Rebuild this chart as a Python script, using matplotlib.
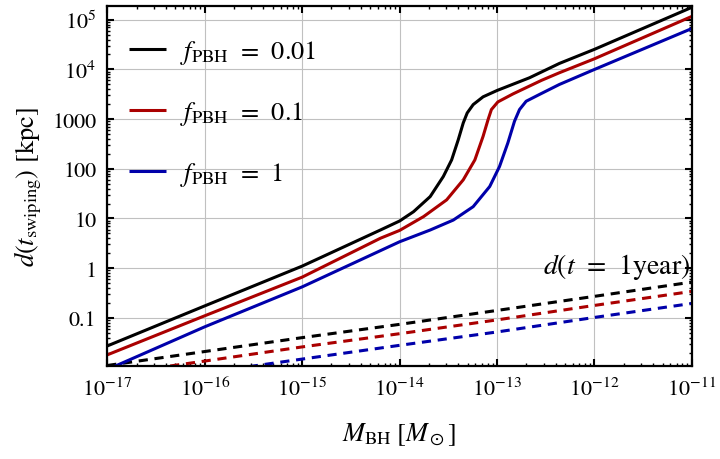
import numpy as np
import matplotlib
matplotlib.use("Agg")
import matplotlib.pyplot as plt
from matplotlib.ticker import LogLocator, FixedLocator, FixedFormatter, NullFormatter

plt.rcParams["font.family"] = "STIXGeneral"
plt.rcParams["mathtext.fontset"] = "stix"

# solid curves: d(t_swiping) in kpc vs M_BH in solar masses
mass_001 = [1e-17, 1e-16, 1e-15, 6.35e-15, 1e-14, 1.39e-14, 2.06e-14, 2.81e-14, 3.42e-14,
            4.0e-14, 4.5e-14, 4.94e-14, 5.69e-14, 7.19e-14, 1e-13, 2.15e-13, 4.36e-13, 1e-12, 1e-11]
dist_001 = [0.0272, 0.174, 1.1, 5.86, 8.9, 13.7, 27.6, 70, 151,
            385, 838, 1330, 1960, 2810, 3770, 6790, 1.32e4, 2.54e4, 1.78e5]

mass_01 = [1e-17, 1e-16, 1e-15, 6.35e-15, 1e-14, 1.76e-14, 3.04e-14, 4.5e-14, 5.92e-14,
           7.19e-14, 8.09e-14, 8.75e-14, 1.02e-13, 1.46e-13, 2.86e-13, 4.36e-13, 1e-12, 1e-11]
dist_01 = [0.0180, 0.110, 0.66, 4.0, 5.75, 10.9, 23.7, 60, 151,
           450, 977, 1556, 2220, 3220, 6030, 8570, 1.64e4, 1.17e5]

mass_1 = [1e-17, 1e-16, 1e-15, 1e-14, 2.06e-14, 3.56e-14, 5.69e-14, 8.41e-14, 1.06e-13,
          1.29e-13, 1.51e-13, 1.70e-13, 1.99e-13, 2.72e-13, 4.36e-13, 1e-12, 1e-11]
dist_1 = [0.0091, 0.066, 0.42, 3.4, 5.86, 9.3, 17.3, 44, 111,
          330, 904, 1556, 2290, 3130, 4980, 1.0e4, 6.67e4]

# dashed curves: d(t = 1 year)
mass_year = [1e-17, 1e-16, 1e-15, 1e-14, 1e-13, 1e-12, 1e-11]
year_001 = [0.011, 0.021, 0.040, 0.074, 0.141, 0.271, 0.525]
year_01 = [0.0071, 0.0135, 0.026, 0.048, 0.091, 0.178, 0.341]
year_1 = [0.0041, 0.0078, 0.0148, 0.028, 0.052, 0.102, 0.195]

labels = [r"$f_{\rm PBH}\;\,=\;\,0.01$", r"$f_{\rm PBH}\;\,=\;\,0.1$", r"$f_{\rm PBH}\;\,=\;\,1$"]
colors = ["black", "#aa0000", "#0000aa"]

ytick_vals = [0.1, 1, 10, 100, 1000, 1e4, 1e5]
ytick_text = ["0.1", "1", "10", "100", "1000", r"$10^4$", r"$10^5$"]
xtick_vals = [1e-17, 1e-16, 1e-15, 1e-14, 1e-13, 1e-12, 1e-11]
xtick_text = [r"$10^{%d}$" % p for p in range(-17, -10)]

fig = plt.figure(figsize=(7.2, 4.6), dpi=100)
ax = fig.add_axes([0.149, 0.202, 0.812, 0.783])

solid = [(mass_001, dist_001), (mass_01, dist_01), (mass_1, dist_1)]
dashed = [year_001, year_01, year_1]
for (m, d), yr, c, lab in zip(solid, dashed, colors, labels):
    ax.plot(m, d, color=c, lw=2.2, label=lab, solid_capstyle="butt")
    ax.plot(mass_year, yr, color=c, lw=2.2, linestyle=(0, (3.0, 2.2)))

ax.set_xscale("log")
ax.set_yscale("log")
ax.set_xlim(1e-17, 1e-11)
ax.set_ylim(0.0107, 1.9e5)

ax.xaxis.set_major_locator(FixedLocator(xtick_vals))
ax.xaxis.set_major_formatter(FixedFormatter(xtick_text))
ax.yaxis.set_major_locator(FixedLocator(ytick_vals))
ax.yaxis.set_major_formatter(FixedFormatter(ytick_text))
ax.xaxis.set_minor_locator(LogLocator(base=10, subs=np.arange(2, 10), numticks=50))
ax.yaxis.set_minor_locator(LogLocator(base=10, subs=np.arange(2, 10), numticks=50))
ax.xaxis.set_minor_formatter(NullFormatter())
ax.yaxis.set_minor_formatter(NullFormatter())

ax.tick_params(which="both", direction="in", top=True, right=True, labelsize=16)
ax.tick_params(which="major", length=5, width=1.5, pad=8)
ax.tick_params(which="minor", length=2.5, width=1.0)
for s in ax.spines.values():
    s.set_linewidth(1.6)

ax.grid(True, which="major", color="#c0c0c0", lw=0.8)
ax.set_axisbelow(True)

ax.set_xlabel(r"$M_{\rm BH}\;[M_\odot]$", fontsize=19, labelpad=14)
ax.set_ylabel(r"$d(t_{\rm swiping})$ [kpc]", fontsize=19, labelpad=6)

ax.text(0.997, 0.278, r"$d(t\;\,=\;\,1{\rm year})$", transform=ax.transAxes,
        ha="right", va="center", fontsize=20)

ax.legend(loc="upper left", frameon=False, fontsize=19, handlelength=1.4,
          handletextpad=0.55, labelspacing=1.25, borderaxespad=0.3,
          bbox_to_anchor=(0.005, 0.962))

fig.savefig("out.png", dpi=100)
